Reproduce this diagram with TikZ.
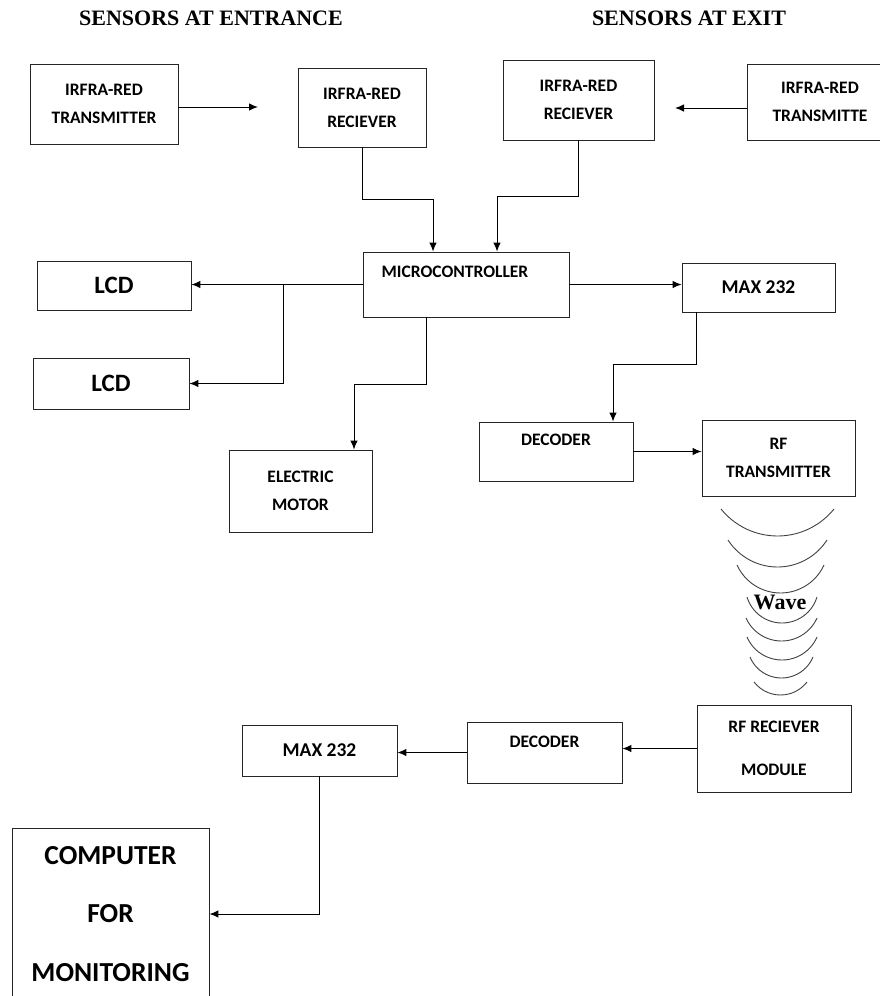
\documentclass[tikz,border=0pt]{standalone}
\usepackage{fontspec}
\setmainfont{Carlito}
\newfontfamily\headfont{Liberation Serif}
\usetikzlibrary{arrows.meta,calc,positioning}

\tikzset{
  blk/.style={draw=black!85, line width=0.9pt, inner sep=0pt, align=center,
    font=\bfseries\fontsize{17.5}{28}\selectfont},
  lcd/.style={font=\bfseries\fontsize{25}{30}\selectfont},
  maxtxt/.style={font=\bfseries\fontsize{19.5}{24}\selectfont},
  pctxt/.style={font=\bfseries\fontsize{27.5}{58.5}\selectfont},
  toptxt/.style={anchor=north, inner sep=0pt, font=\bfseries\fontsize{17.5}{20}\selectfont},
  head/.style={font=\headfont\bfseries\fontsize{22}{24}\selectfont},
  flow/.style={line width=1pt, -{Latex[length=9pt,width=7.5pt]}},
  wave/.style={line width=0.9pt, black!75},
}

\begin{document}
\begin{tikzpicture}[x=1pt,y=-1pt]
\useasboundingbox (0,0) rectangle (880,996);
\clip (0,0) rectangle (880,996);

\node[head] (entr) at (211,18) {SENSORS AT ENTRANCE};
\node[head] (exit) at (689,18) {SENSORS AT EXIT};

\node[blk, minimum width=148pt, minimum height=80pt] (irtxA) at (104,104) {IRFRA-RED\\TRANSMITTER};
\node[blk, minimum width=128pt, minimum height=79pt] (irrxA) at (362,107.5) {IRFRA-RED\\RECIEVER};
\node[blk, minimum width=151pt, minimum height=80pt] (irrxB) at (578.5,100) {IRFRA-RED\\RECIEVER};
\node[blk, minimum width=146pt, minimum height=76pt] (irtxB) at (820,102) {IRFRA-RED\\TRANSMITTE};
\node[blk, minimum width=206pt, minimum height=65pt,
  label={[toptxt, xshift=-11pt, yshift=-14.5pt]above:MICROCONTROLLER}] (micro) at (466,284.5) {};
\node[blk, lcd, minimum width=154pt, minimum height=49pt] (lcdA) at (114,285.5) {LCD};
\node[blk, lcd, minimum width=156pt, minimum height=51pt] (lcdB) at (111,383.5) {LCD};
\node[blk, minimum width=143pt, minimum height=82pt] (motor) at (300.5,491) {ELECTRIC\\MOTOR};
\node[blk, maxtxt, minimum width=153pt, minimum height=49pt] (maxA) at (758.5,287.5) {MAX 232};
\node[blk, minimum width=154pt, minimum height=59pt,
  label={[toptxt, yshift=-12.5pt]above:DECODER}] (decA) at (556,451.5) {};
\node[blk, minimum width=153pt, minimum height=76pt] (rftx) at (778.5,458) {RF\\TRANSMITTER};
\node[blk, font=\bfseries\fontsize{17.5}{43}\selectfont, minimum width=154pt, minimum height=87pt] (rfrx) at (774,748.5) {RF RECIEVER\\MODULE};
\node[blk, minimum width=155pt, minimum height=61pt,
  label={[toptxt, yshift=-14.5pt]above:DECODER}] (decB) at (544.5,752.5) {};
\node[blk, maxtxt, minimum width=155pt, minimum height=51pt] (maxB) at (319.5,750.5) {MAX 232};
\node[blk, pctxt, minimum width=197pt, minimum height=172pt] (pc) at (110.5,914) {COMPUTER\\FOR\\MONITORING};

\coordinate (beamA) at (258,107);
\coordinate (beamB) at (675,108);
\draw[flow] (irtxA.east |- beamA) -- (beamA);
\draw[flow] (irtxB.west |- beamB) -- (beamB);
\draw[flow] (irrxA.south) -- ++(0,52) -| ([xshift=-33pt]micro.north);
\draw[flow] (irrxB.south) -- ++(0,56) -| ([xshift=31pt]micro.north);
\draw[flow] (micro.west) -- (micro.west -| lcdA.east);
\draw[flow] ([xshift=-79pt]micro.west) |- (lcdB.east);
\draw[flow] ([xshift=-40pt]micro.south) -- ++(0,67) -| ([xshift=53.5pt]motor.north);
\draw[flow] (micro.east) -- (micro.east -| maxA.west);
\draw[flow] ([xshift=-62.5pt]maxA.south) -- ++(0,52) -| ([xshift=57pt]decA.north);
\draw[flow] (decA.east) -- (decA.east -| rftx.west);
\draw[flow] (rfrx.west) -- (rfrx.west -| decB.east);
\draw[flow] (decB.west) -- (decB.west -| maxB.east);
\draw[flow] (maxB.south) |- (pc.east);

\foreach \xl/\xr/\yt/\yb in {721/834/509/536, 728/827/540/567, 737/824/565/593,
  747/817/597/623, 746/817/618/641, 747/817/637/660, 750/813/657/678, 754/807/682/695}{
  \pgfmathsetmacro\wavehw{(\xr-\xl)/2}
  \pgfmathsetmacro\wavesag{\yb-\yt}
  \pgfmathsetmacro\waverad{(\wavehw*\wavehw+\wavesag*\wavesag)/(2*\wavesag)}
  \pgfmathsetmacro\waveang{asin(\wavehw/\waverad)}
  \draw[wave] (\xl,\yt) arc[start angle=90+\waveang, end angle=90-\waveang, radius=\waverad];
}
\node[head] (wavetxt) at (780,602) {Wave};
\end{tikzpicture}
\end{document}
